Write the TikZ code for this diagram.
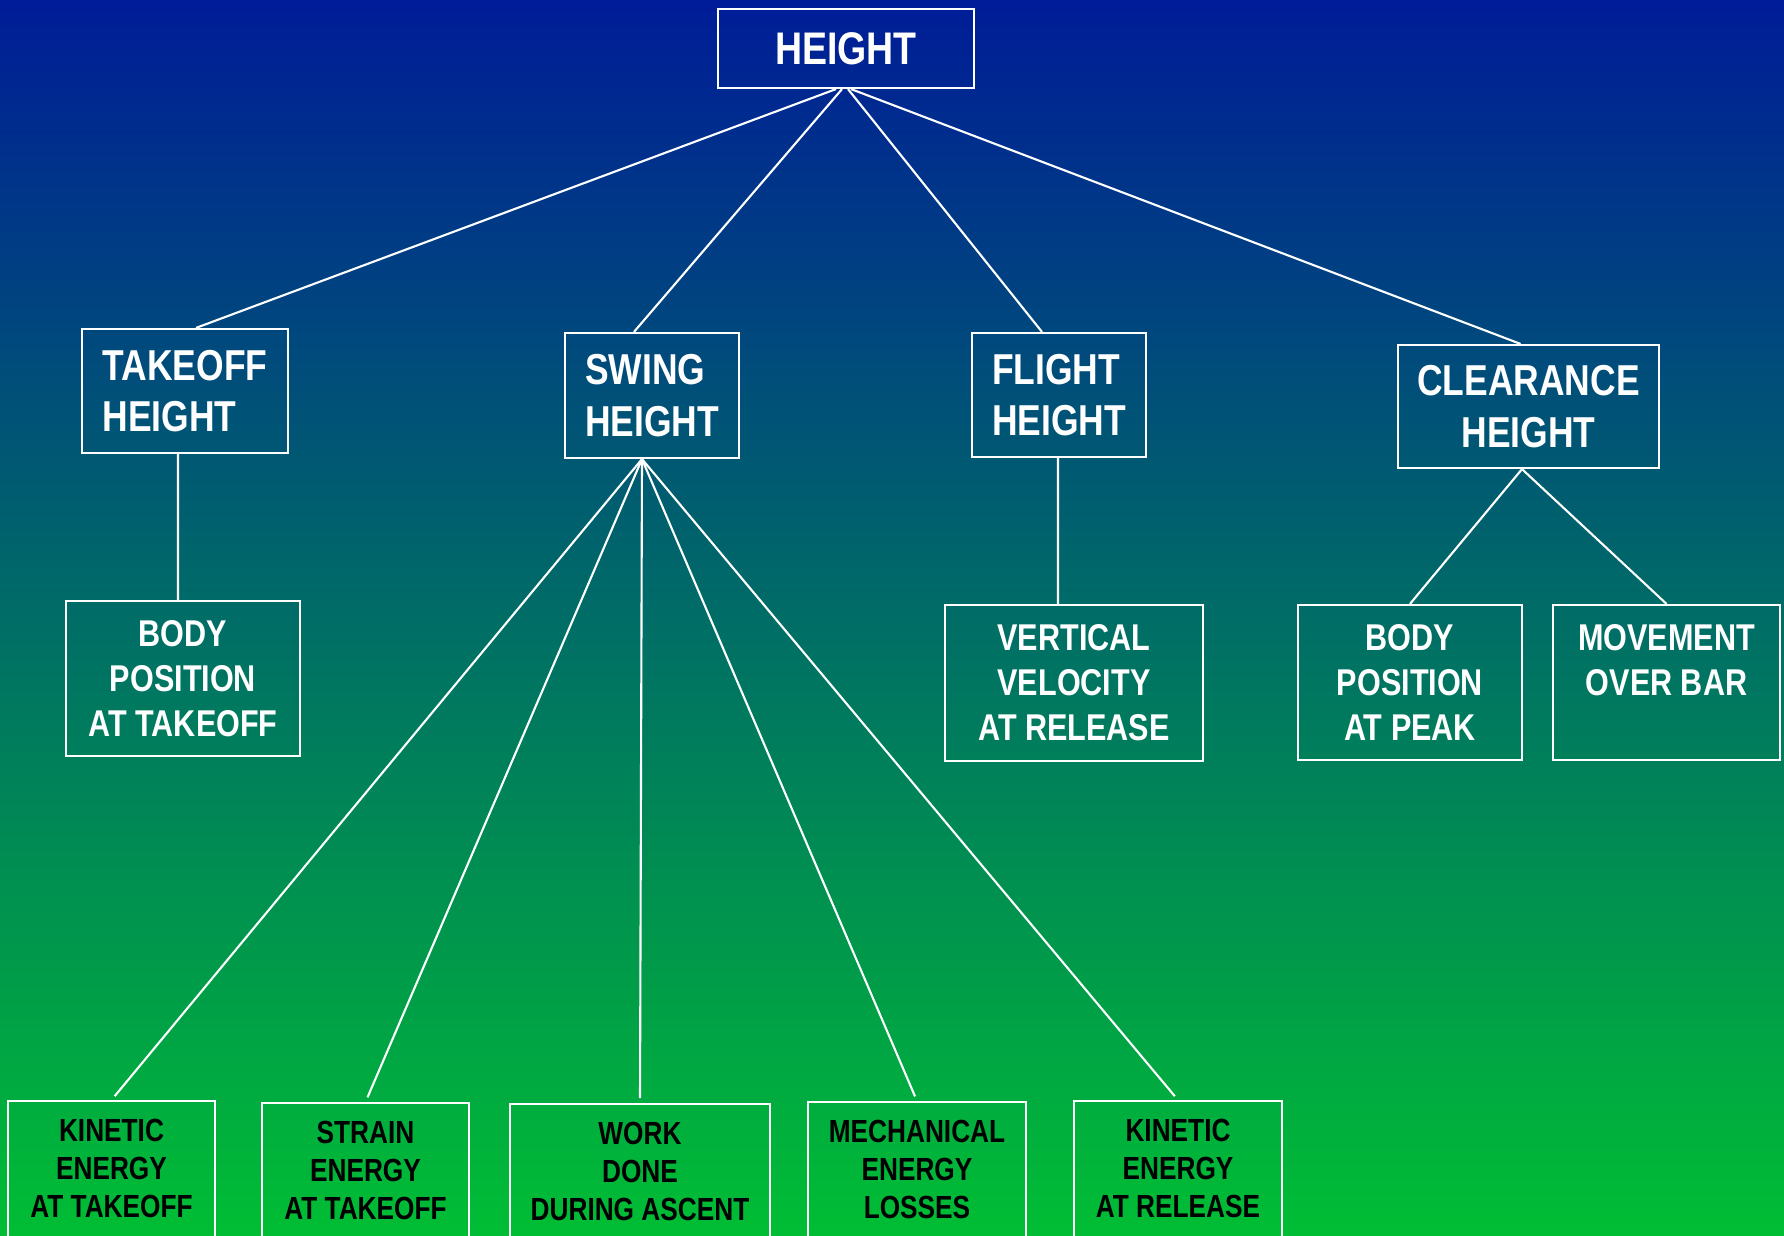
\documentclass[tikz,border=0pt]{standalone}
\usepackage{fontspec}
\setmainfont{Liberation Sans}[FakeStretch=0.82]
\usetikzlibrary{positioning}

\definecolor{skytop}{RGB}{0,28,152}
\definecolor{seamid}{RGB}{0,122,126}
\definecolor{grassbot}{RGB}{0,190,52}

\tikzset{
  box/.style={draw=white,line width=0.6pt,inner sep=0pt,align=center},
  topbox/.style={box,text=white,font=\fontsize{13}{15}\selectfont\bfseries},
  upbox/.style={box,text=white,align=left,minimum height=1.24cm,font=\fontsize{12.3}{14.6}\selectfont\bfseries},
  midbox/.style={box,text=white,minimum height=1.55cm,font=\fontsize{10.6}{12.8}\selectfont\bfseries},
  lowbox/.style={box,text=black,anchor=north,inner ysep=0.18cm,text depth=2cm,font=\fontsize{9.1}{10.8}\selectfont\bfseries},
  link/.style={draw=white,line width=0.6pt}
}

\begin{document}
\begin{tikzpicture}[x=0.01cm,y=-0.01cm]
\shade[top color=skytop,middle color=seamid,bottom color=grassbot] (0,0) rectangle (1784,1236);
\clip (0,0) rectangle (1784,1236);

% top
\node[topbox,minimum width=2.56cm,minimum height=0.79cm] (height) at (846,48.5) {HEIGHT};

% first level
\node[upbox,minimum width=2.06cm] (takeoff) at (185,391) {TAKEOFF\\HEIGHT};
\node[upbox,minimum width=1.74cm,minimum height=1.25cm] (swing) at (652,395.5) {SWING\\HEIGHT};
\node[upbox,minimum width=1.74cm] (flight) at (1059,395) {FLIGHT\\HEIGHT};
\node[upbox,align=center,minimum width=2.61cm,minimum height=1.23cm] (clearance) at (1528.5,406.5) {CLEARANCE\\HEIGHT};

% second level
\node[midbox,minimum width=2.34cm] (bodyto) at (183,678.5) {BODY\\POSITION\\AT TAKEOFF};
\node[midbox,minimum width=2.58cm,minimum height=1.56cm] (vertical) at (1074,683) {VERTICAL\\VELOCITY\\AT RELEASE};
\node[midbox,minimum width=2.24cm] (bodypk) at (1410,682.5) {BODY\\POSITION\\AT PEAK};
\node[midbox,minimum width=2.27cm] (movement) at (1666.5,682.5) {MOVEMENT\\OVER BAR\\~};

% swing factors
\node[lowbox,minimum width=2.07cm] (kinto) at (111.5,1100) {KINETIC\\ENERGY\\AT TAKEOFF};
\node[lowbox,minimum width=2.07cm] (strain) at (365.5,1102) {STRAIN\\ENERGY\\AT TAKEOFF};
\node[lowbox,minimum width=2.60cm] (work) at (640,1103) {WORK\\DONE\\DURING ASCENT};
\node[lowbox,minimum width=2.18cm] (mech) at (917,1101) {MECHANICAL\\ENERGY\\LOSSES};
\node[lowbox,minimum width=2.08cm] (kinrel) at (1178,1100) {KINETIC\\ENERGY\\AT RELEASE};

% links
\draw[link] ([xshift=-0.1cm]height.south) -- ([xshift=0.11cm]takeoff.north);
\draw[link] ([xshift=-0.04cm]height.south) -- ([xshift=-0.18cm]swing.north);
\draw[link] ([xshift=0.02cm]height.south) -- ([xshift=-0.17cm]flight.north);
\draw[link] ([xshift=0.05cm]height.south) -- ([xshift=-0.08cm]clearance.north);

\draw[link] ([xshift=-0.07cm]takeoff.south) -- ([xshift=-0.05cm]bodyto.north);
\draw[link] ([xshift=-0.01cm]flight.south) -- ([xshift=-0.16cm]vertical.north);
\draw[link] ([xshift=-0.065cm]clearance.south) -- (bodypk.north);
\draw[link] ([xshift=-0.065cm]clearance.south) -- (movement.north);

\foreach \leaf in {kinto,strain,work,mech,kinrel}
  \draw[link,shorten >=0.05cm] ([xshift=-0.1cm]swing.south) -- (\leaf.north);

\end{tikzpicture}
\end{document}
